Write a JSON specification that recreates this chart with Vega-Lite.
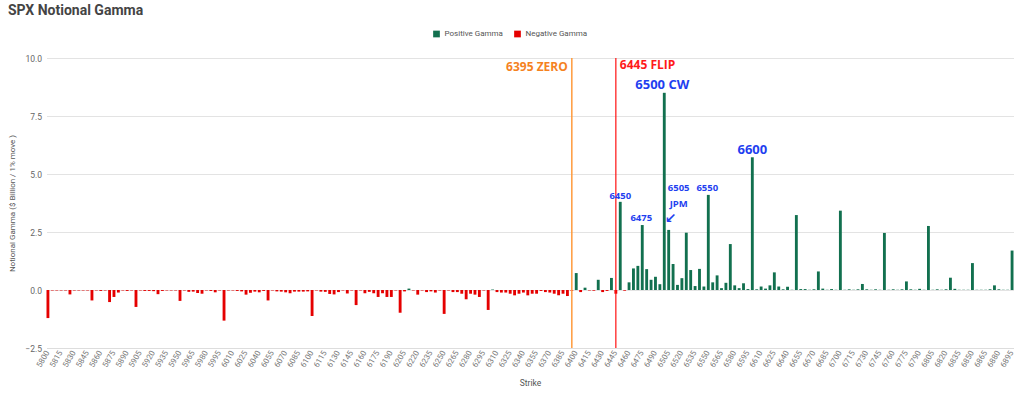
{
"$schema": "https://vega.github.io/schema/vega-lite/v6.json",
"width": 967, "height": 290,
"autosize": {"type": "none"},
"padding": {"left": 46.5, "top": 58, "right": 10.5, "bottom": 49},
"background": "white",
"title": {"text": "SPX Notional Gamma", "anchor": "start", "frame": "group", "offset": 12, "dx": -38.5, "fontSize": 14, "font": "Roboto", "fontWeight": "bold", "color": "#444444"},
"config": {"view": {"stroke": null}, "font": "Roboto"},
"data": {"values": [
{"k":5800,"g":-1.21,"t":"N"},{"k":5805,"g":-0.02,"t":"N"},{"k":5810,"g":-0.02,"t":"N"},{"k":5815,"g":-0.02,"t":"N"},{"k":5820,"g":-0.02,"t":"N"},
{"k":5825,"g":-0.19,"t":"N"},{"k":5830,"g":-0.02,"t":"N"},{"k":5835,"g":-0.02,"t":"N"},{"k":5840,"g":-0.02,"t":"N"},{"k":5845,"g":-0.02,"t":"N"},
{"k":5850,"g":-0.45,"t":"N"},{"k":5855,"g":-0.02,"t":"N"},{"k":5860,"g":-0.04,"t":"N"},{"k":5865,"g":-0.02,"t":"N"},{"k":5870,"g":-0.52,"t":"N"},
{"k":5875,"g":-0.30,"t":"N"},{"k":5880,"g":-0.11,"t":"N"},{"k":5885,"g":-0.02,"t":"N"},{"k":5890,"g":-0.04,"t":"N"},{"k":5895,"g":-0.02,"t":"N"},
{"k":5900,"g":-0.73,"t":"N"},{"k":5905,"g":-0.02,"t":"N"},{"k":5910,"g":-0.04,"t":"N"},{"k":5915,"g":-0.04,"t":"N"},{"k":5920,"g":-0.05,"t":"N"},
{"k":5925,"g":-0.18,"t":"N"},{"k":5930,"g":-0.04,"t":"N"},{"k":5935,"g":-0.02,"t":"N"},{"k":5940,"g":-0.02,"t":"N"},{"k":5945,"g":-0.02,"t":"N"},
{"k":5950,"g":-0.47,"t":"N"},{"k":5955,"g":-0.02,"t":"N"},{"k":5960,"g":-0.08,"t":"N"},{"k":5965,"g":-0.07,"t":"N"},{"k":5970,"g":-0.13,"t":"N"},
{"k":5975,"g":-0.16,"t":"N"},{"k":5980,"g":-0.02,"t":"N"},{"k":5985,"g":-0.04,"t":"N"},{"k":5990,"g":-0.10,"t":"N"},{"k":5995,"g":-0.02,"t":"N"},
{"k":6000,"g":-1.32,"t":"N"},{"k":6005,"g":-0.02,"t":"N"},{"k":6010,"g":-0.02,"t":"N"},{"k":6015,"g":-0.04,"t":"N"},{"k":6020,"g":-0.06,"t":"N"},
{"k":6025,"g":-0.20,"t":"N"},{"k":6030,"g":-0.12,"t":"N"},{"k":6035,"g":-0.07,"t":"N"},{"k":6040,"g":-0.10,"t":"N"},{"k":6045,"g":-0.04,"t":"N"},
{"k":6050,"g":-0.45,"t":"N"},{"k":6055,"g":-0.02,"t":"N"},{"k":6060,"g":-0.06,"t":"N"},{"k":6065,"g":-0.07,"t":"N"},{"k":6070,"g":-0.10,"t":"N"},
{"k":6075,"g":-0.14,"t":"N"},{"k":6080,"g":-0.07,"t":"N"},{"k":6085,"g":-0.07,"t":"N"},{"k":6090,"g":-0.07,"t":"N"},{"k":6095,"g":-0.06,"t":"N"},
{"k":6100,"g":-1.12,"t":"N"},{"k":6105,"g":-0.02,"t":"N"},{"k":6110,"g":-0.07,"t":"N"},{"k":6115,"g":-0.08,"t":"N"},{"k":6120,"g":-0.17,"t":"N"},
{"k":6125,"g":-0.19,"t":"N"},{"k":6130,"g":-0.09,"t":"N"},{"k":6135,"g":-0.02,"t":"N"},{"k":6140,"g":-0.15,"t":"N"},{"k":6145,"g":-0.02,"t":"N"},
{"k":6150,"g":-0.65,"t":"N"},{"k":6155,"g":-0.02,"t":"N"},{"k":6160,"g":-0.14,"t":"N"},{"k":6165,"g":-0.08,"t":"N"},{"k":6170,"g":-0.14,"t":"N"},
{"k":6175,"g":-0.30,"t":"N"},{"k":6180,"g":-0.14,"t":"N"},{"k":6185,"g":-0.30,"t":"N"},{"k":6190,"g":-0.30,"t":"N"},{"k":6195,"g":-0.02,"t":"N"},
{"k":6200,"g":-0.98,"t":"N"},{"k":6205,"g":-0.06,"t":"N"},{"k":6210,"g":0.06,"t":"P"},{"k":6215,"g":-0.02,"t":"N"},{"k":6220,"g":-0.20,"t":"N"},
{"k":6225,"g":-0.02,"t":"N"},{"k":6230,"g":-0.09,"t":"N"},{"k":6235,"g":-0.06,"t":"N"},{"k":6240,"g":-0.11,"t":"N"},{"k":6245,"g":-0.02,"t":"N"},
{"k":6250,"g":-1.03,"t":"N"},{"k":6255,"g":-0.02,"t":"N"},{"k":6260,"g":-0.09,"t":"N"},{"k":6265,"g":-0.09,"t":"N"},{"k":6270,"g":-0.16,"t":"N"},
{"k":6275,"g":-0.40,"t":"N"},{"k":6280,"g":-0.16,"t":"N"},{"k":6285,"g":-0.20,"t":"N"},{"k":6290,"g":-0.30,"t":"N"},{"k":6295,"g":-0.02,"t":"N"},
{"k":6300,"g":-0.86,"t":"N"},{"k":6305,"g":0.02,"t":"P"},{"k":6310,"g":-0.09,"t":"N"},{"k":6315,"g":-0.11,"t":"N"},{"k":6320,"g":-0.11,"t":"N"},
{"k":6325,"g":-0.16,"t":"N"},{"k":6330,"g":-0.23,"t":"N"},{"k":6335,"g":-0.16,"t":"N"},{"k":6340,"g":-0.11,"t":"N"},{"k":6345,"g":-0.23,"t":"N"},
{"k":6350,"g":-0.16,"t":"N"},{"k":6355,"g":-0.16,"t":"N"},{"k":6360,"g":-0.04,"t":"N"},{"k":6365,"g":-0.09,"t":"N"},{"k":6370,"g":-0.11,"t":"N"},
{"k":6375,"g":-0.16,"t":"N"},{"k":6380,"g":-0.23,"t":"N"},{"k":6385,"g":-0.16,"t":"N"},{"k":6390,"g":-0.26,"t":"N"},{"k":6395,"g":-0.03,"t":"N"},
{"k":6400,"g":0.73,"t":"P"},{"k":6405,"g":-0.09,"t":"N"},{"k":6410,"g":0.10,"t":"P"},{"k":6415,"g":-0.02,"t":"N"},{"k":6420,"g":-0.03,"t":"N"},
{"k":6425,"g":0.44,"t":"P"},{"k":6430,"g":-0.09,"t":"N"},{"k":6435,"g":-0.04,"t":"N"},{"k":6440,"g":0.52,"t":"P"},{"k":6445,"g":-0.16,"t":"N"},
{"k":6450,"g":3.80,"t":"P"},{"k":6455,"g":-0.03,"t":"N"},{"k":6460,"g":0.33,"t":"P"},{"k":6465,"g":0.93,"t":"P"},{"k":6470,"g":1.04,"t":"P"},
{"k":6475,"g":2.80,"t":"P"},{"k":6480,"g":0.90,"t":"P"},{"k":6485,"g":0.44,"t":"P"},{"k":6490,"g":0.57,"t":"P"},{"k":6495,"g":0.25,"t":"P"},
{"k":6500,"g":8.50,"t":"P"},{"k":6505,"g":2.59,"t":"P"},{"k":6510,"g":1.12,"t":"P"},{"k":6515,"g":0.22,"t":"P"},{"k":6520,"g":0.51,"t":"P"},
{"k":6525,"g":2.47,"t":"P"},{"k":6530,"g":0.86,"t":"P"},{"k":6535,"g":0.17,"t":"P"},{"k":6540,"g":0.91,"t":"P"},{"k":6545,"g":0.15,"t":"P"},
{"k":6550,"g":4.10,"t":"P"},{"k":6555,"g":0.33,"t":"P"},{"k":6560,"g":0.63,"t":"P"},{"k":6565,"g":0.08,"t":"P"},{"k":6570,"g":0.31,"t":"P"},
{"k":6575,"g":1.98,"t":"P"},{"k":6580,"g":0.20,"t":"P"},{"k":6585,"g":0.08,"t":"P"},{"k":6590,"g":0.29,"t":"P"},{"k":6595,"g":0.04,"t":"P"},
{"k":6600,"g":5.72,"t":"P"},{"k":6605,"g":0.03,"t":"P"},{"k":6610,"g":0.15,"t":"P"},{"k":6615,"g":0.06,"t":"P"},{"k":6620,"g":0.20,"t":"P"},
{"k":6625,"g":0.76,"t":"P"},{"k":6630,"g":0.15,"t":"P"},{"k":6635,"g":0.03,"t":"P"},{"k":6640,"g":0.14,"t":"P"},{"k":6645,"g":0.01,"t":"P"},
{"k":6650,"g":3.23,"t":"P"},{"k":6655,"g":0.04,"t":"P"},{"k":6660,"g":0.04,"t":"P"},{"k":6665,"g":0.01,"t":"P"},{"k":6670,"g":0.03,"t":"P"},
{"k":6675,"g":0.80,"t":"P"},{"k":6680,"g":0.06,"t":"P"},{"k":6685,"g":0.01,"t":"P"},{"k":6690,"g":0.04,"t":"P"},{"k":6695,"g":0.01,"t":"P"},
{"k":6700,"g":3.42,"t":"P"},{"k":6705,"g":0.01,"t":"P"},{"k":6710,"g":0.03,"t":"P"},{"k":6715,"g":0.01,"t":"P"},{"k":6720,"g":0.03,"t":"P"},
{"k":6725,"g":0.26,"t":"P"},{"k":6730,"g":0.03,"t":"P"},{"k":6735,"g":0.01,"t":"P"},{"k":6740,"g":0.03,"t":"P"},{"k":6745,"g":0.01,"t":"P"},
{"k":6750,"g":2.46,"t":"P"},{"k":6755,"g":0.01,"t":"P"},{"k":6760,"g":0.03,"t":"P"},{"k":6765,"g":0.01,"t":"P"},{"k":6770,"g":0.03,"t":"P"},
{"k":6775,"g":0.37,"t":"P"},{"k":6780,"g":0.03,"t":"P"},{"k":6785,"g":0.01,"t":"P"},{"k":6790,"g":0.05,"t":"P"},{"k":6795,"g":0.01,"t":"P"},
{"k":6800,"g":2.76,"t":"P"},{"k":6805,"g":0.01,"t":"P"},{"k":6810,"g":0.03,"t":"P"},{"k":6815,"g":0.01,"t":"P"},{"k":6820,"g":0.03,"t":"P"},
{"k":6825,"g":0.53,"t":"P"},{"k":6830,"g":0.05,"t":"P"},{"k":6835,"g":0.01,"t":"P"},{"k":6840,"g":0.01,"t":"P"},{"k":6845,"g":0.01,"t":"P"},
{"k":6850,"g":1.16,"t":"P"},{"k":6855,"g":0.01,"t":"P"},{"k":6860,"g":0.01,"t":"P"},{"k":6865,"g":0.01,"t":"P"},{"k":6870,"g":0.03,"t":"P"},
{"k":6875,"g":0.20,"t":"P"},{"k":6880,"g":0.03,"t":"P"},{"k":6885,"g":0.01,"t":"P"},{"k":6890,"g":0.01,"t":"P"},{"k":6895,"g":1.70,"t":"P"}
]},
"layer": [
{
"mark": {"type": "bar"},
"encoding": {
"x": {"field": "k", "type": "ordinal", "scale": {"paddingInner": 0.35, "paddingOuter": 0},
"axis": {"title": "Strike", "titleFontSize": 8.5, "titleFontWeight": "normal", "titleColor": "#555555", "titlePadding": 10,
"labelAngle": -60, "labelFontSize": 8, "labelColor": "#777777", "labelPadding": 3, "ticks": false,
"labelExpr": "(datum.value - 5800) % 15 == 0 ? datum.label : ''", "labelOverlap": false,
"domain": true, "domainColor": "#dddddd", "grid": false}},
"y": {"field": "g", "type": "quantitative", "scale": {"domain": [-2.5, 10], "nice": false},
"axis": {"title": "Notional Gamma ($ Billion / 1% move )", "titleFontSize": 8, "titleFontWeight": "normal", "titleColor": "#555555", "titlePadding": 8,
"values": [-2.5, 0, 2.5, 5, 7.5, 10], "format": ".1f", "labelFontSize": 8.5, "labelColor": "#666666", "labelPadding": 5,
"ticks": false, "domain": false, "grid": true, "gridColor": "#e3e3e3"}},
"color": {"field": "t", "type": "nominal", "scale": {"domain": ["P", "N"], "range": ["#12704f", "#e50000"]},
"legend": {"orient": "none", "legendX": 386, "legendY": -28, "direction": "horizontal", "title": null,
"symbolType": "square", "symbolSize": 45, "symbolStrokeWidth": 0, "labelFontSize": 8, "labelColor": "#555555", "columnPadding": 10,
"labelExpr": "datum.label == 'P' ? 'Positive Gamma' : 'Negative Gamma'"}}
}
},
{"data": {"values": [{}]}, "mark": {"type": "rule", "color": "#ff9a3c", "strokeWidth": 1.5}, "encoding": {"x": {"datum": 6395, "type": "ordinal"}}},
{"data": {"values": [{}]}, "mark": {"type": "rule", "color": "#ff1010", "strokeWidth": 1.2}, "encoding": {"x": {"datum": 6445, "type": "ordinal"}}},
{"data": {"values": [{}]}, "mark": {"type": "text", "align": "right", "baseline": "middle", "dx": -4, "fontSize": 12, "fontWeight": "bold", "font": "Open Sans", "color": "#f5821f"},
"encoding": {"x": {"datum": 6395, "type": "ordinal"}, "y": {"datum": 9.62}, "text": {"value": "6395 ZERO"}}},
{"data": {"values": [{}]}, "mark": {"type": "text", "align": "left", "baseline": "middle", "dx": 4, "fontSize": 12, "fontWeight": "bold", "font": "Open Sans", "color": "#ff1a1a"},
"encoding": {"x": {"datum": 6445, "type": "ordinal"}, "y": {"datum": 9.68}, "text": {"value": "6445 FLIP"}}},
{"data": {"values": [{}]}, "mark": {"type": "text", "align": "center", "baseline": "middle", "dx": -2, "fontSize": 13, "fontWeight": "bold", "font": "Open Sans", "color": "#1f3ff0"},
"encoding": {"x": {"datum": 6500, "type": "ordinal"}, "y": {"datum": 8.84}, "text": {"value": "6500 CW"}}},
{"data": {"values": [{}]}, "mark": {"type": "text", "align": "center", "baseline": "middle", "dx": 0, "fontSize": 13, "fontWeight": "bold", "font": "Open Sans", "color": "#1f3ff0"},
"encoding": {"x": {"datum": 6600, "type": "ordinal"}, "y": {"datum": 6.03}, "text": {"value": "6600"}}},
{"data": {"values": [{}]}, "mark": {"type": "text", "align": "center", "baseline": "middle", "dx": 0, "fontSize": 9.5, "fontWeight": "bold", "font": "Open Sans", "color": "#1f3ff0"},
"encoding": {"x": {"datum": 6450, "type": "ordinal"}, "y": {"datum": 4.05}, "text": {"value": "6450"}}},
{"data": {"values": [{}]}, "mark": {"type": "text", "align": "center", "baseline": "middle", "dx": -1, "fontSize": 9.5, "fontWeight": "bold", "font": "Open Sans", "color": "#1f3ff0"},
"encoding": {"x": {"datum": 6475, "type": "ordinal"}, "y": {"datum": 3.09}, "text": {"value": "6475"}}},
{"data": {"values": [{}]}, "mark": {"type": "text", "align": "center", "baseline": "middle", "dx": 10, "fontSize": 9.5, "fontWeight": "bold", "font": "Open Sans", "color": "#1f3ff0"},
"encoding": {"x": {"datum": 6505, "type": "ordinal"}, "y": {"datum": 4.38}, "text": {"value": "6505"}}},
{"data": {"values": [{}]}, "mark": {"type": "text", "align": "center", "baseline": "middle", "dx": 10, "fontSize": 9.5, "fontWeight": "bold", "font": "Open Sans", "color": "#1f3ff0"},
"encoding": {"x": {"datum": 6505, "type": "ordinal"}, "y": {"datum": 3.71}, "text": {"value": "JPM"}}},
{"data": {"values": [{}]}, "mark": {"type": "text", "align": "center", "baseline": "middle", "dx": -1, "fontSize": 9.5, "fontWeight": "bold", "font": "Open Sans", "color": "#1f3ff0"},
"encoding": {"x": {"datum": 6550, "type": "ordinal"}, "y": {"datum": 4.38}, "text": {"value": "6550"}}},
{"data": {"values": [{}]}, "mark": {"type": "text", "align": "center", "baseline": "middle", "dx": 2, "fontSize": 14, "fontWeight": "bold", "font": "DejaVu Sans", "color": "#1f3ff0"},
"encoding": {"x": {"datum": 6505, "type": "ordinal"}, "y": {"datum": 3.05}, "text": {"value": "↙"}}}
]
}
